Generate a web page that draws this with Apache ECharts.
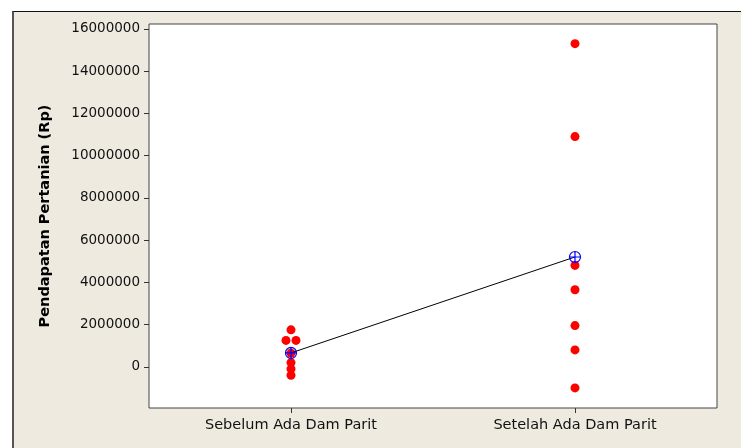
<!DOCTYPE html>
<html>
<head>
<meta charset="utf-8">
<script src="https://cdn.jsdelivr.net/npm/echarts@6/dist/echarts.min.js"></script>
<style>
  html, body { margin: 0; padding: 0; background: #fff; }
  #frame { position: absolute; left: 12px; top: 11px; width: 727px; height: 437px;
           background: #eeeae0; border-top: 1px solid #111; border-left: 2px solid #555; }
  #main { position: absolute; left: 0; top: 0; width: 741px; height: 448px; }
</style>
</head>
<body>
<div id="frame"></div>
<div id="main"></div>
<script>
    // groups on the x axis
    var groups = ['Sebelum Ada Dam Parit', 'Setelah Ada Dam Parit'];

    // individual values (Rp)
    var sebelum = [1750000, 1250000, 1250000, 650000, 200000, -100000, -400000];
    var setelah = [15300000, 10900000, 4800000, 3650000, 1950000, 800000, -1000000];

    // y ticks shown
    var yTicks = [0, 2000000, 4000000, 6000000, 8000000, 10000000, 12000000, 14000000, 16000000];

    var mean = function (arr) {
        var s = 0;
        for (var i = 0; i < arr.length; i++) s += arr[i];
        return s / arr.length;
    };

    // two equal values side by side get nudged apart like minitab does
    var toPoints = function (name, arr) {
        var res = [];
        var seen = {};
        for (var i = 0; i < arr.length; i++) {
            var v = arr[i];
            var item = { value: [name, v] };
            if (seen[v] !== undefined) {
                item.symbolOffset = [5, 0];
                res[seen[v]].symbolOffset = [-5, 0];
            } else {
                seen[v] = res.length;
            }
            res.push(item);
        }
        return res;
    };

    var points = toPoints(groups[0], sebelum).concat(toPoints(groups[1], setelah));
    var means = [[groups[0], mean(sebelum)], [groups[1], mean(setelah)]];

    var meanSymbol = 'path://M0,-5A5,5 0 1,1 0,5A5,5 0 1,1 0,-5Z M-5,0L5,0 M0,-5L0,5';
    var font = 'DejaVu Sans';

    var myChart = echarts.init(document.getElementById('main'));
    var option = {
        backgroundColor: 'transparent',
        animation: false,
        grid: {
            left: 149, top: 24, right: 24, bottom: 40,
            show: true,
            backgroundColor: '#fff',
            borderColor: '#444',
            borderWidth: 1
        },
        xAxis: {
            type: 'category',
            data: groups,
            boundaryGap: true,
            axisLine: { show: false, onZero: false },
            axisTick: { show: true, alignWithLabel: true, length: 5, lineStyle: { color: '#333' } },
            axisLabel: { margin: 10, color: '#111', fontFamily: font, fontSize: 14.5 },
            splitLine: { show: false }
        },
        yAxis: {
            type: 'value',
            min: -1950000,
            max: 16230000,
            name: 'Pendapatan Pertanian (Rp)',
            nameLocation: 'middle',
            nameGap: 96,
            nameTextStyle: { fontFamily: font, fontSize: 14.5, fontWeight: 'bold', color: '#000' },
            axisLine: { show: false },
            axisTick: { show: true, length: 5, customValues: yTicks, lineStyle: { color: '#333' } },
            axisLabel: {
                margin: 9, customValues: yTicks, color: '#111', fontFamily: font, fontSize: 13.5,
                formatter: function (v) { return String(v); }
            },
            splitLine: { show: false }
        },
        series: [
            {
                name: 'mean line',
                type: 'line',
                data: means,
                showSymbol: false,
                lineStyle: { color: '#000', width: 1 },
                z: 3
            },
            {
                name: 'values',
                type: 'scatter',
                data: points,
                symbol: 'circle',
                symbolSize: 9,
                itemStyle: { color: '#ff0000', opacity: 1 },
                z: 2
            },
            {
                name: 'mean',
                type: 'scatter',
                data: means,
                symbol: meanSymbol,
                symbolSize: 11,
                itemStyle: { color: 'transparent', borderColor: '#0000ff', borderWidth: 1.2, opacity: 1 },
                z: 4
            }
        ]
    };
    myChart.setOption(option);
</script>
</body>
</html>
